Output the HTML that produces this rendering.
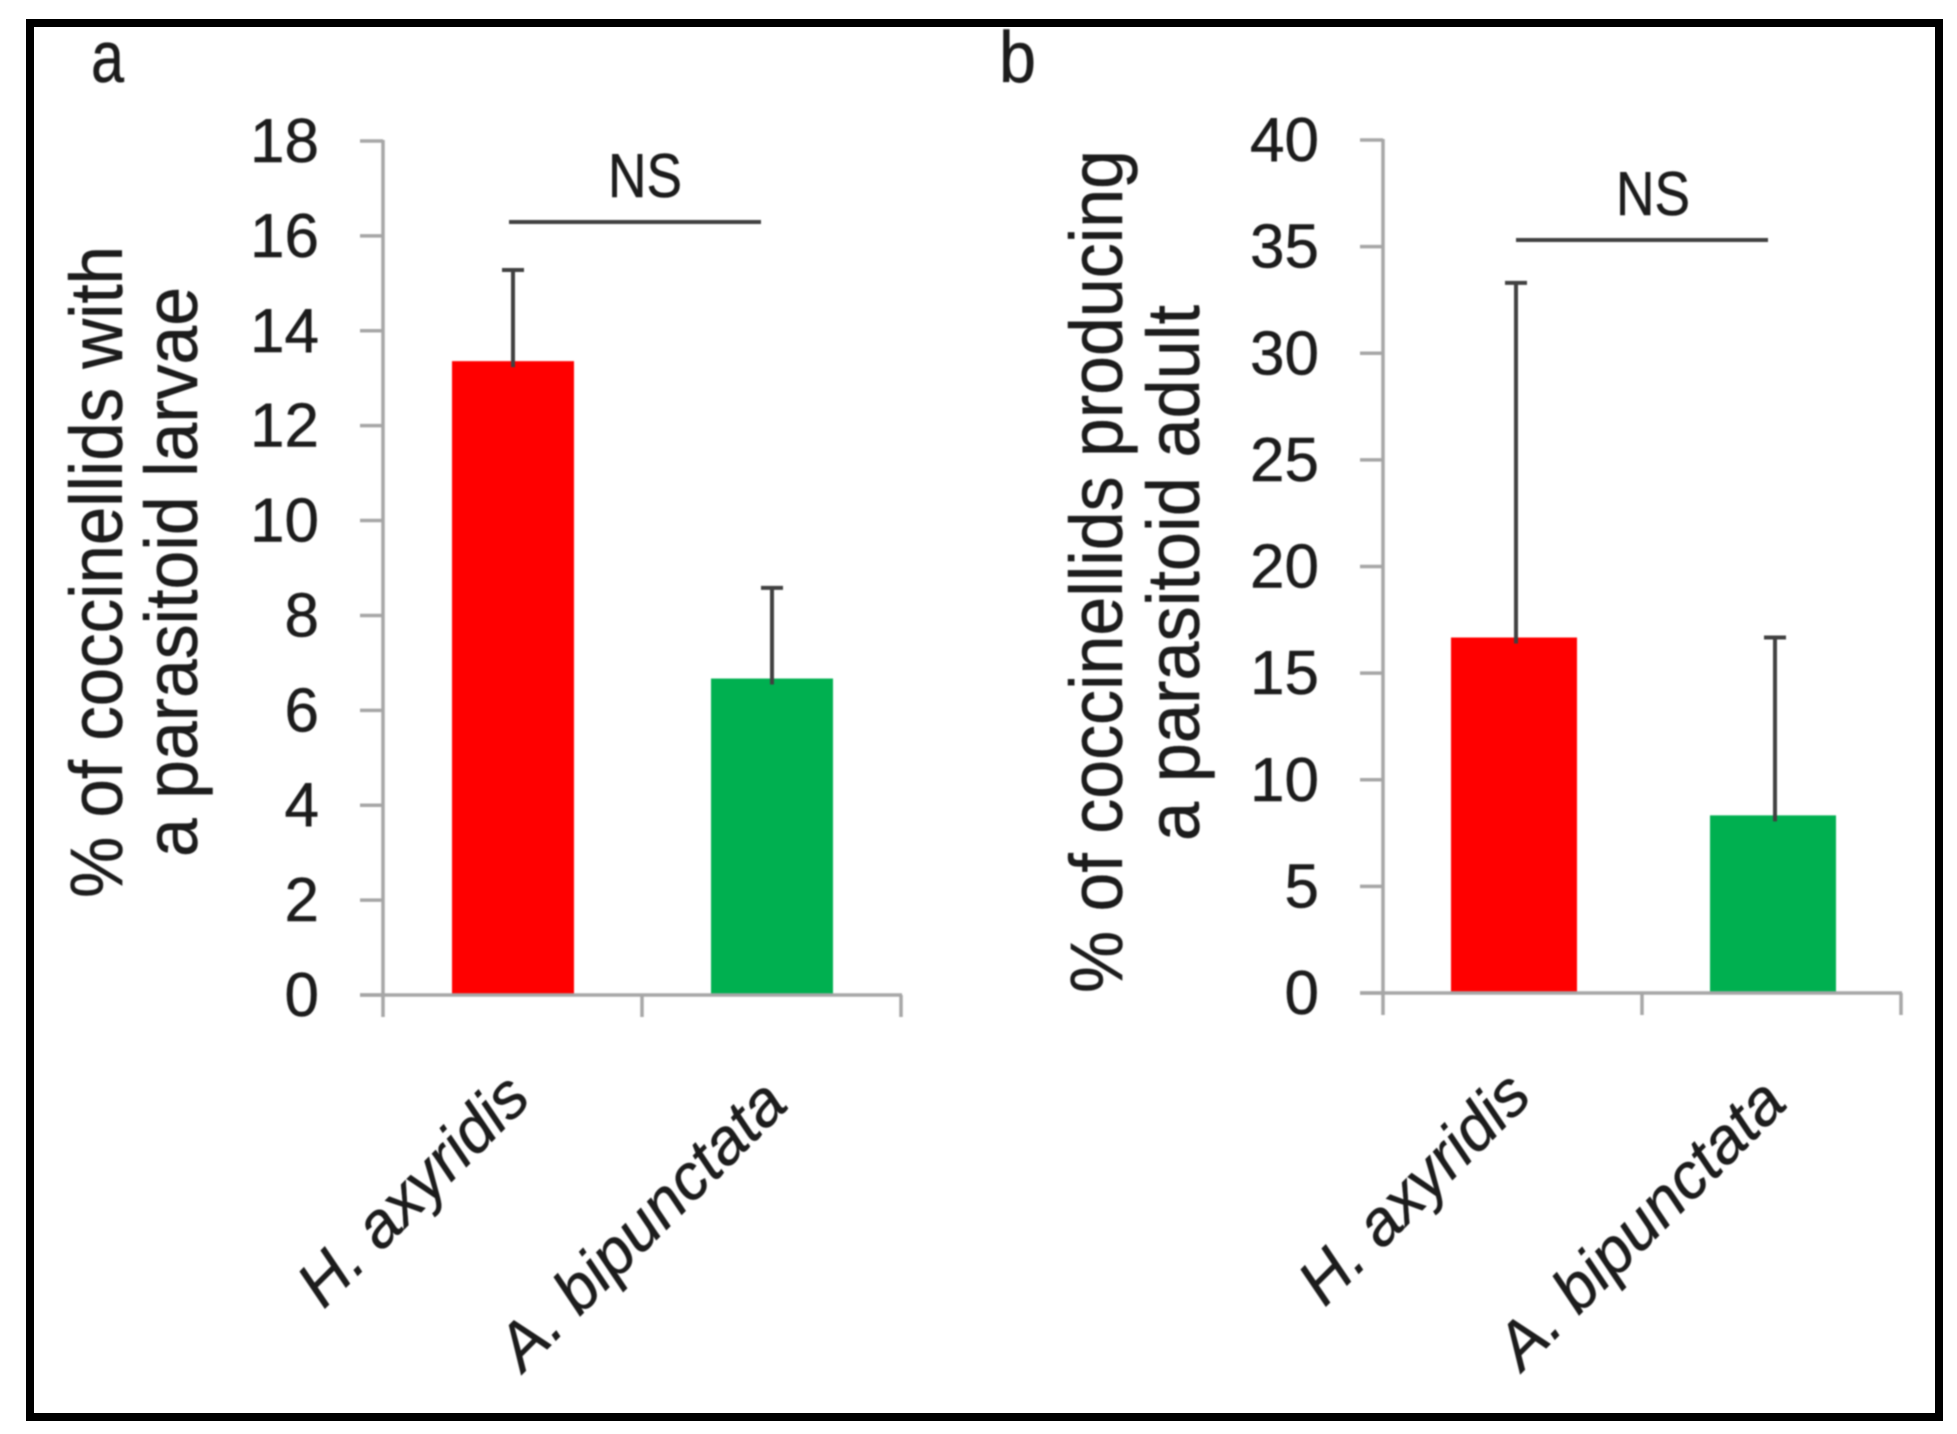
<!DOCTYPE html>
<html lang="en">
<head>
<meta charset="utf-8">
<title>Coccinellid parasitism bar charts</title>
<style>
  html, body { margin: 0; padding: 0; background: #fff; }
  body { width: 1957px; height: 1434px; overflow: hidden; }
  svg { display: block; }
  text { font-family: "Liberation Sans", sans-serif; fill: #1c1c1c; stroke: #1c1c1c; stroke-width: 0.5px; }
  .soft { filter: blur(0.7px); }
</style>
</head>
<body>
<svg id="figure" xmlns="http://www.w3.org/2000/svg" width="1957" height="1434" viewBox="0 0 1957 1434">
  <rect x="30" y="23" width="1909" height="1394" fill="#fff" stroke="#000" stroke-width="8"/>
  <g class="soft" id="panel-a">
    <text x="91" y="82" font-size="72" textLength="33" lengthAdjust="spacingAndGlyphs">a</text>
    <text transform="translate(122 898) rotate(-90)" font-size="74" textLength="652" lengthAdjust="spacingAndGlyphs">% of coccinellids with</text>
    <text transform="translate(197 857) rotate(-90)" font-size="74" textLength="570" lengthAdjust="spacingAndGlyphs">a parasitoid larvae</text>
    <text x="608" y="197" font-size="62" textLength="74" lengthAdjust="spacingAndGlyphs">NS</text>
    <line x1="509" y1="222" x2="761" y2="222" stroke="#404040" stroke-width="4"/>
  </g>
  <g class="soft" id="panel-b">
    <text x="999" y="82" font-size="72" textLength="37" lengthAdjust="spacingAndGlyphs">b</text>
    <text transform="translate(1122 993) rotate(-90)" font-size="74" textLength="843" lengthAdjust="spacingAndGlyphs">% of coccinellids producing</text>
    <text transform="translate(1199 841) rotate(-90)" font-size="74" textLength="536" lengthAdjust="spacingAndGlyphs">a parasitoid adult</text>
    <text x="1616" y="215" font-size="62" textLength="74" lengthAdjust="spacingAndGlyphs">NS</text>
    <line x1="1516" y1="240" x2="1768" y2="240" stroke="#404040" stroke-width="4"/>
  </g>
</svg>
<script>
const categories = ['H. axyridis', 'A. bipunctata'];
const larvaeValues = [13.36, 6.67];
const larvaeErrorTops = [15.28, 8.58];
const larvaeTicks = [0, 2, 4, 6, 8, 10, 12, 14, 16, 18];
const adultValues = [16.67, 8.33];
const adultErrorTops = [33.3, 16.67];
const adultTicks = [0, 5, 10, 15, 20, 25, 30, 35, 40];

const SVG_NS = 'http://www.w3.org/2000/svg';
const barColors = ['#ff0000', '#00b050'];
const labelLengths = [296, 377];

function make(parent, tag, attrs, content) {
  const el = document.createElementNS(SVG_NS, tag);
  Object.keys(attrs).forEach(function (k) { el.setAttribute(k, attrs[k]); });
  if (content !== undefined) el.textContent = content;
  parent.appendChild(el);
  return el;
}

function drawPanel(group, values, errorTops, ticks, geo) {
  const yMax = ticks[ticks.length - 1];
  const bandWidth = (geo.xEnd - geo.x0) / categories.length;
  const yScale = function (v) { return geo.yBase - (v / yMax) * (geo.yBase - geo.yTop); };
  const xScale = function (i) { return geo.x0 + bandWidth * (i + 0.5); };

  values.forEach(function (v, i) {
    const bar = make(group, 'rect', {
      x: xScale(i) + geo.barShift - geo.barWidth / 2,
      y: yScale(v),
      width: geo.barWidth,
      height: geo.yBase - yScale(v),
      fill: barColors[i]
    });
    
    

    const ex = xScale(i) + geo.errShift;
    const stem = make(group, 'line', {
      x1: ex, x2: ex, y1: yScale(v) + 6, y2: yScale(errorTops[i]),
      stroke: '#404040', 'stroke-width': 4
    });
    
    

    const cap = make(group, 'line', {
      x1: ex - 11, x2: ex + 11, y1: yScale(errorTops[i]), y2: yScale(errorTops[i]),
      stroke: '#404040', 'stroke-width': 4
    });
    
    
  });

  const axisStyle = { stroke: '#a6a6a6', 'stroke-width': 3.5 };

  const yAxis = make(group, 'line', Object.assign({ x1: geo.x0, x2: geo.x0, y1: yScale(yMax) - 1, y2: geo.yBase + 22 }, axisStyle));
  
  

  const xAxis = make(group, 'line', Object.assign({ x1: geo.x0 - 23, x2: geo.xEnd + 1, y1: geo.yBase, y2: geo.yBase }, axisStyle));
  
  

  ticks.forEach(function (t) {
    const y = yScale(t);
    const mark = make(group, 'line', Object.assign({ x1: geo.x0 - 23, x2: geo.x0, y1: y, y2: y }, axisStyle));
    
    

    const label = make(group, 'text', { x: geo.x0 - 64, y: y + 21, 'font-size': 62, 'text-anchor': 'end' }, String(t));
    
    
  });

  for (let i = 1; i <= categories.length; i++) {
    const tx = geo.x0 + bandWidth * i;
    const mark = make(group, 'line', Object.assign({ x1: tx, x2: tx, y1: geo.yBase, y2: geo.yBase + 22 }, axisStyle));
    
    
  }

  categories.forEach(function (name, i) {
    const anchorX = xScale(i) + geo.labelDx[i];
    const anchorY = geo.yBase + geo.labelDy[i];
    const label = make(group, 'text', {
      transform: 'translate(' + anchorX + ' ' + anchorY + ') rotate(-45)',
      'font-size': 64,
      'font-style': 'italic',
      textLength: labelLengths[i],
      lengthAdjust: 'spacingAndGlyphs'
    }, name);
    
    
  });
}

drawPanel(document.getElementById('panel-a'), larvaeValues, larvaeErrorTops, larvaeTicks, {
  x0: 383, xEnd: 901, yBase: 995, yTop: 141,
  barWidth: 122, barShift: 0.5, errShift: 0.5,
  labelDx: [-189, -248], labelDy: [315, 378]
});

drawPanel(document.getElementById('panel-b'), adultValues, adultErrorTops, adultTicks, {
  x0: 1383, xEnd: 1901, yBase: 993, yTop: 140,
  barWidth: 126, barShift: 1.5, errShift: 3.5,
  labelDx: [-188, -249], labelDy: [315, 379]
});
</script>
</body>
</html>
